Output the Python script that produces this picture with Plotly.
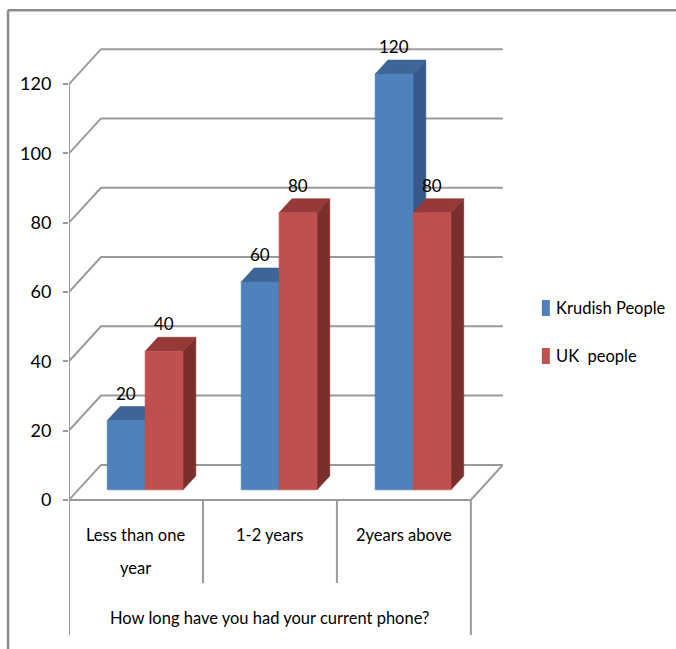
import plotly.graph_objects as go

# ---------------- data ----------------
categories = ["Less than one<br>year", "1-2 years", "2years above"]
series_names = ["Krudish People", "UK  people"]
krudish = [20, 60, 120]
uk = [40, 80, 80]
tick_values = [0, 20, 40, 60, 80, 100, 120]
axis_title = "How long have you had your current phone?"

# ---------------- styling / geometry ----------------
W, H = 676, 649
PX_X = 134.0          # pixels per category unit
PX_Y = 3.467          # pixels per value unit
LEFT = 69.0
Y0_PX = 500.0
X_RANGE = [-0.5, 2.74]
Y_RANGE = [-39.0, 131.0]
plot_w = (X_RANGE[1] - X_RANGE[0]) * PX_X
plot_h = (Y_RANGE[1] - Y_RANGE[0]) * PX_Y
top_m = Y0_PX - Y_RANGE[1] * PX_Y
bot_m = H - (Y0_PX - Y_RANGE[0] * PX_Y)
right_m = W - LEFT - plot_w

DX = 32.0 / PX_X      # full depth offset (x units)
DY = 35.0 / PX_Y      # full depth offset (value units)
F0, F1 = 0.286, 0.686 # bar front/back depth fractions
BW = 0.283            # bar width

FONT = "Lato, Carlito, Calibri, sans-serif"
GRID = "#9a9a9a"
colors = {
    0: dict(front="#4F81BD", top="#3D6696", side="#36598A"),
    1: dict(front="#C0504D", top="#953A38", side="#7A2F2D"),
}


def px2paper(px, py):
    return (px - LEFT) / plot_w, ((Y0_PX - Y_RANGE[0] * PX_Y) - py) / plot_h


fig = go.Figure()


def line(xs, ys, width=2, color=GRID):
    fig.add_trace(go.Scatter(x=xs, y=ys, mode="lines", showlegend=False,
                             hoverinfo="skip",
                             line=dict(color=color, width=width)))


def poly(xs, ys, color):
    fig.add_trace(go.Scatter(x=xs + [xs[0]], y=ys + [ys[0]], mode="lines",
                             fill="toself", fillcolor=color, showlegend=False,
                             hoverinfo="skip",
                             line=dict(color=color, width=0.6)))


n = len(categories)
xl, xr = -0.5, n - 0.5

# walls: gridlines (left wall diagonal + back wall)
for v in tick_values:
    line([xl, xl + DX, xr + DX], [v, v + DY, v + DY])
# floor front edge + right diagonal
line([xl, xr, xr + DX], [0, 0, DY])
# value axis line (continues down as category frame)
line([xl, xl], [tick_values[-1], Y_RANGE[0]])
# category frame
for i in range(1, n):
    line([i - 0.5, i - 0.5], [0, -24])
line([xr, xr], [0, Y_RANGE[0]])

# bars (3D boxes)
data = [krudish, uk]
for i in range(n):
    for s in range(2):
        v = data[s][i]
        x_a = i - BW if s == 0 else i
        x_b = x_a + BW
        ax0, ay0 = F0 * DX, F0 * DY
        ax1, ay1 = F1 * DX, F1 * DY
        c = colors[s]
        # side
        poly([x_b + ax0, x_b + ax1, x_b + ax1, x_b + ax0],
             [ay0, ay1, v + ay1, v + ay0], c["side"])
        # top
        poly([x_a + ax0, x_b + ax0, x_b + ax1, x_a + ax1],
             [v + ay0, v + ay0, v + ay1, v + ay1], c["top"])
        # front
        poly([x_a + ax0, x_b + ax0, x_b + ax0, x_a + ax0],
             [ay0, ay0, v + ay0, v + ay0], c["front"])
        fig.add_annotation(x=(x_a + x_b) / 2 + ax0, y=v + ay0 + 7.9,
                           text=str(v), showarrow=False, xanchor="center",
                           yanchor="middle",
                           font=dict(family=FONT, size=17, color="#000"))

# category labels (each line placed with Excel-like line spacing)
for i, cat in enumerate(categories):
    for k, part in enumerate(cat.split("<br>")):
        fig.add_annotation(x=i, y=-(35 + 33 * k) / PX_Y, text=part,
                           showarrow=False, xanchor="center",
                           yanchor="middle",
                           font=dict(family=FONT, size=16.5, color="#000"))
fig.add_annotation(x=(xl + xr) / 2, y=-34, text=axis_title, showarrow=False,
                   xanchor="center", yanchor="middle",
                   font=dict(family=FONT, size=16.5, color="#000"))

# legend (custom)
leg_y = [308, 356]
for s in range(2):
    x0, y0 = px2paper(542, leg_y[s] - 8)
    x1, y1 = px2paper(550, leg_y[s] + 8)
    fig.add_shape(type="rect", xref="paper", yref="paper", x0=x0, x1=x1,
                  y0=y0, y1=y1, fillcolor=colors[s]["front"], line_width=0)
    tx, ty = px2paper(554, leg_y[s])
    fig.add_annotation(xref="paper", yref="paper", x=tx, y=ty,
                       text=series_names[s], showarrow=False, xanchor="left",
                       yanchor="middle",
                       font=dict(family=FONT, size=16.5, color="#000"))

# outer chart border (top + left)
bx0, by0 = px2paper(8, 10)
bx1, _ = px2paper(W + 2, 10)
_, by1 = px2paper(8, H + 2)
fig.add_shape(type="line", xref="paper", yref="paper", x0=bx0, y0=by0,
              x1=bx1, y1=by0, line=dict(color="#8c8c8c", width=2.5))
fig.add_shape(type="line", xref="paper", yref="paper", x0=bx0, y0=by0,
              x1=bx0, y1=by1, line=dict(color="#8c8c8c", width=2.5))

fig.update_xaxes(range=X_RANGE, visible=False, fixedrange=True)
fig.update_yaxes(range=Y_RANGE, tickvals=tick_values, ticks="outside",
                 ticklen=5, tickwidth=2, tickcolor=GRID, showgrid=False,
                 zeroline=False, showline=False, ticklabelstandoff=8,
                 tickfont=dict(family=FONT, size=18, color="#000"),
                 fixedrange=True)
fig.update_layout(width=W, height=H, showlegend=False,
                  margin=dict(l=LEFT, r=right_m, t=top_m, b=bot_m, pad=0),
                  paper_bgcolor="white", plot_bgcolor="white")

fig.write_html("out.html")
